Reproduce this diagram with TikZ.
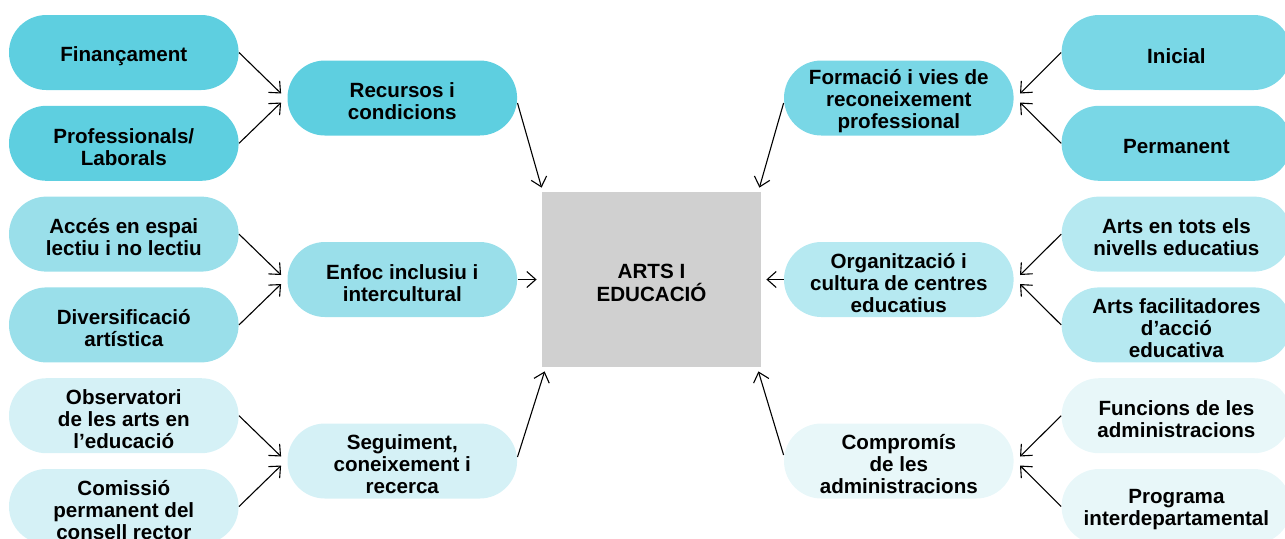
\documentclass[tikz,border=0pt]{standalone}
\usepackage{fontspec}
\setmainfont{Liberation Sans}
\usetikzlibrary{arrows.meta}
\definecolor{cLA}{HTML}{5ECFE0}
\definecolor{cRA}{HTML}{79D7E6}
\definecolor{cLB}{HTML}{9ADFEA}
\definecolor{cRB}{HTML}{B6E9F1}
\definecolor{cLC}{HTML}{D5F1F6}
\definecolor{cRC}{HTML}{E8F7F9}
\definecolor{boxgray}{HTML}{D0D0D0}
\begin{document}
\begin{tikzpicture}[x=0.5pt,y=-0.5pt,
  pill/.style={rounded corners=18.7pt, minimum width=114.8pt, minimum height=37.5pt,
    inner sep=0pt, draw=none},
  txt/.style={inner sep=0pt, align=center, yshift=-1.7pt,
    font=\bfseries\fontsize{10.3}{11}\selectfont},
  arr/.style={-{Straight Barb[length=4.5pt,width=8pt]}, line width=0.55pt, black}]
\useasboundingbox (0,0) rectangle (1285,538);

% central box
\node[fill=boxgray, minimum width=109.5pt, minimum height=87.5pt, inner sep=0pt,
  label={[txt,font=\bfseries\fontsize{10.3}{11.5}\selectfont]center:{ARTS I\\EDUCACIÓ}}] (box) at (651.5,279.5) {};

% left outer column
\node[pill, fill=cLA, label={[txt]center:{Finançament}}] (fin) at (123.8,52.5) {};
\node[pill, fill=cLA, label={[txt]center:{Professionals/\\Laborals}}] (pro) at (123.8,143.3) {};
\node[pill, fill=cLB, label={[txt]center:{Accés en espai\\lectiu i no lectiu}}] (acc) at (123.8,234.1) {};
\node[pill, fill=cLB, label={[txt]center:{Diversificació\\artística}}] (div) at (123.8,324.9) {};
\node[pill, fill=cLC, label={[txt]center:{Observatori\\de les arts en\\l’educació}}] (obs) at (123.8,415.7) {};
\node[pill, fill=cLC, label={[txt]center:{Comissió\\permanent del\\consell rector}}] (com) at (123.8,506.5) {};

% left middle column
\node[pill, fill=cLA, label={[txt]center:{Recursos i\\condicions}}] (rec) at (402.3,98) {};
\node[pill, fill=cLB, label={[txt]center:{Enfoc inclusiu i\\intercultural}}] (enf) at (402.3,279.5) {};
\node[pill, fill=cLC, label={[txt]center:{Seguiment,\\coneixement i\\recerca}}] (seg) at (402.3,461) {};

% right middle column
\node[pill, fill=cRA, label={[txt]center:{Formació i vies de\\reconeixement\\professional}}] (for) at (898.8,98) {};
\node[pill, fill=cRB, label={[txt]center:{Organització i\\cultura de centres\\educatius}}] (org) at (898.8,279.5) {};
\node[pill, fill=cRC, label={[txt]center:{Compromís\\de les\\administracions}}] (cmp) at (898.8,461) {};

% right outer column
\node[pill, fill=cRA, label={[txt]center:{Inicial}}] (ini) at (1176.4,52.5) {};
\node[pill, fill=cRA, label={[txt]center:{Permanent}}] (per) at (1176.4,143.3) {};
\node[pill, fill=cRB, label={[txt]center:{Arts en tots els\\nivells educatius}}] (tot) at (1176.4,234.1) {};
\node[pill, fill=cRB, label={[txt]center:{Arts facilitadores\\d’acció\\educativa}}] (fac) at (1176.4,324.9) {};
\node[pill, fill=cRC, label={[txt]center:{Funcions de les\\administracions}}] (fun) at (1176.4,415.7) {};
\node[pill, fill=cRC, label={[txt]center:{Programa\\interdepartamental}}] (prg) at (1176.4,506.5) {};

% left arrows into middle pills
\draw[arr] (fin.east) -- ([xshift=-3pt,yshift=2.25pt]rec.west);
\draw[arr] (pro.east) -- ([xshift=-3pt,yshift=-2.25pt]rec.west);
\draw[arr] (acc.east) -- ([xshift=-3pt,yshift=2.25pt]enf.west);
\draw[arr] (div.east) -- ([xshift=-3pt,yshift=-2.25pt]enf.west);
\draw[arr] (obs.east) -- ([xshift=-3pt,yshift=2.25pt]seg.west);
\draw[arr] (com.east) -- ([xshift=-3pt,yshift=-2.25pt]seg.west);

% right arrows into middle pills
\draw[arr] (ini.west) -- ([xshift=3pt,yshift=2.25pt]for.east);
\draw[arr] (per.west) -- ([xshift=3pt,yshift=-2.25pt]for.east);
\draw[arr] (tot.west) -- ([xshift=3pt,yshift=2.25pt]org.east);
\draw[arr] (fac.west) -- ([xshift=3pt,yshift=-2.25pt]org.east);
\draw[arr] (fun.west) -- ([xshift=3pt,yshift=2.25pt]cmp.east);
\draw[arr] (prg.west) -- ([xshift=3pt,yshift=-2.25pt]cmp.east);

% middle pills into the box
\draw[arr] ([yshift=-2.5pt]rec.east) -- ([yshift=2pt]box.north west);
\draw[arr] (enf.east) -- ([xshift=-2.5pt]box.west);
\draw[arr] ([yshift=2pt]seg.east) -- ([xshift=1.5pt,yshift=-2pt]box.south west);
\draw[arr] ([yshift=-2.5pt]for.west) -- ([xshift=-1pt,yshift=2pt]box.north east);
\draw[arr] (org.west) -- ([xshift=2.5pt]box.east);
\draw[arr] ([yshift=3pt]cmp.west) -- ([xshift=-1.5pt,yshift=-2pt]box.south east);
\end{tikzpicture}
\end{document}
